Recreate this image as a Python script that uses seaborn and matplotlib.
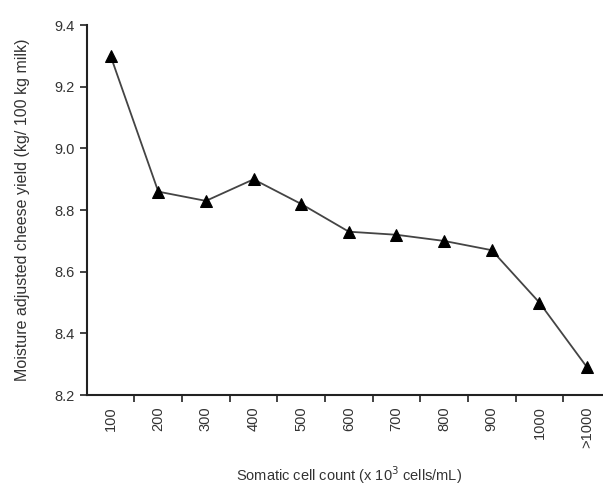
import numpy as np
import pandas as pd
import matplotlib
matplotlib.use("Agg")
import matplotlib.pyplot as plt
import seaborn as sns
from matplotlib.ticker import FixedLocator

# Datos
categorias = ["100", "200", "300", "400", "500", "600", "700", "800", "900", "1000", ">1000"]
rendimiento = [9.30, 8.86, 8.83, 8.90, 8.82, 8.73, 8.72, 8.70, 8.67, 8.50, 8.29]
yticks = [8.2, 8.4, 8.6, 8.8, 9.0, 9.2, 9.4]

sns.set_style("ticks")
plt.rcParams["font.family"] = ["Liberation Sans", "DejaVu Sans"]

df = pd.DataFrame({"scc": categorias, "yield": rendimiento})
df["pos"] = np.arange(len(categorias))

fig = plt.figure(figsize=(6.03, 4.95), dpi=100)
ax = fig.add_axes([0.144, 0.202, 0.869, 0.747])

sns.lineplot(
    data=df, x="pos", y="yield", ax=ax,
    color="#444444", linewidth=1.3,
    marker="^", markersize=9, markerfacecolor="black", markeredgecolor="black",
)

ax.set_xlim(-0.5, 10.5)
ax.set_ylim(8.2, 9.4)
ax.set_yticks(yticks)
ax.set_yticklabels([f"{v:.1f}" for v in yticks])

# etiquetas centradas en cada categoría, marcas entre categorías
ax.set_xticks(df["pos"])
ax.set_xticklabels(categorias, rotation=90)
ax.xaxis.set_minor_locator(FixedLocator(np.arange(0.5, len(categorias) - 1, 1.0)))
ax.tick_params(axis="x", which="major", length=0, pad=8, labelsize=10.5, colors="#333333")
ax.tick_params(axis="x", which="minor", length=5, width=1.2, color="#222222")
ax.tick_params(axis="y", length=5, width=1.2, labelsize=10.5, colors="#333333")
ax.tick_params(axis="y", color="#222222")

for s in ["left", "bottom"]:
    ax.spines[s].set_linewidth(1.5)
    ax.spines[s].set_color("#222222")
sns.despine(ax=ax)

ax.set_xlabel("Somatic cell count (x 10$^3$ cells/mL)", fontsize=10.5, color="#333333", labelpad=12)
ax.set_ylabel("Moisture adjusted cheese yield (kg/ 100 kg milk)", fontsize=11.5, color="#333333", labelpad=18)

fig.savefig("out.png", dpi=100)
